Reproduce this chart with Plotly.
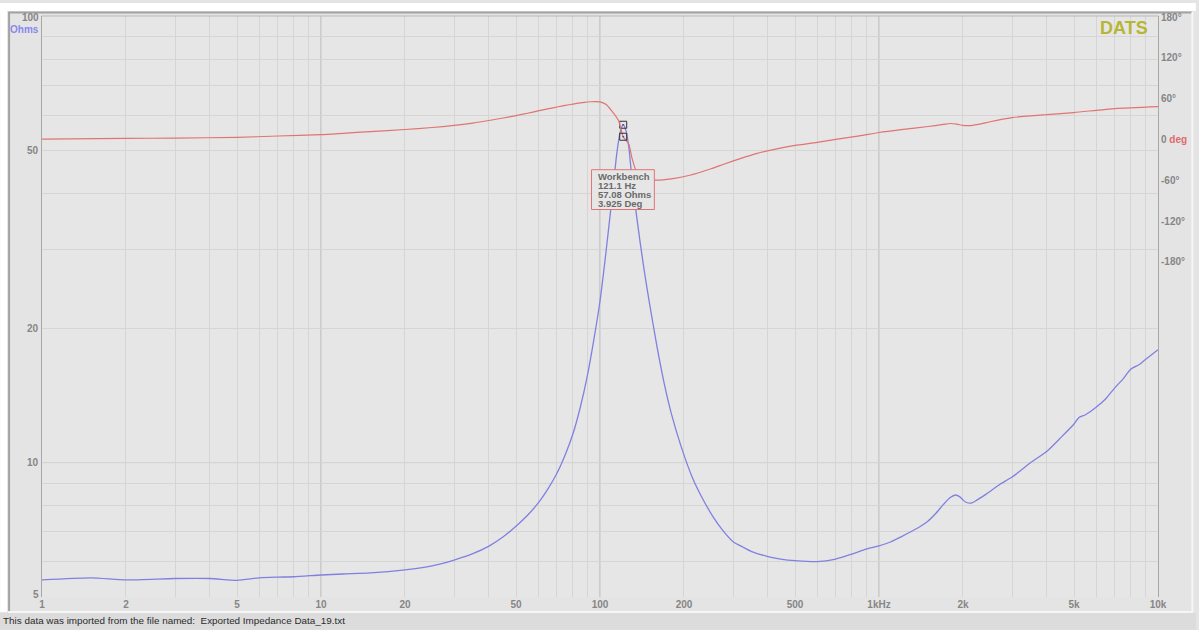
import plotly.graph_objects as go
import math

# ---- measured impedance (Ohms) vs frequency (Hz) ----
freq_z = [1, 1.5, 2, 3, 4, 5, 6, 7, 8, 10, 12, 15, 20, 25, 30, 35, 40, 45, 50, 55,
          60, 65, 70, 75, 80, 85, 90, 95, 100, 105, 110, 115, 118, 121.1, 124, 127,
          130, 135, 140, 145, 150, 160, 170, 180, 195, 215, 233, 255, 275, 300, 325,
          350, 400, 450, 500, 600, 700, 800, 900, 1000, 1100, 1200, 1300, 1400, 1500,
          1600, 1700, 1800, 1880, 1950, 2000, 2050, 2150, 2250, 2430, 2700, 3000,
          3500, 4000, 4500, 5000, 5200, 5500, 6000, 6500, 7000, 7500, 8000, 8600,
          9000, 10000]
impedance = [5.46, 5.52, 5.46, 5.50, 5.50, 5.45, 5.52, 5.54, 5.55, 5.60, 5.63, 5.66,
             5.75, 5.87, 6.05, 6.25, 6.50, 6.82, 7.20, 7.62, 8.11, 8.72, 9.45, 10.4,
             11.6, 13.3, 15.6, 18.8, 23.0, 29.5, 38.3, 49.5, 54.8, 57.08, 55.3, 50.5,
             43.6, 36.0, 30.4, 26.2, 23.0, 18.2, 15.0, 12.9, 10.9, 9.21, 8.31, 7.54,
             7.06, 6.65, 6.47, 6.32, 6.16, 6.07, 6.03, 6.00, 6.08, 6.24, 6.40, 6.51,
             6.64, 6.82, 7.00, 7.18, 7.40, 7.70, 8.05, 8.35, 8.46, 8.38, 8.25, 8.15,
             8.12, 8.25, 8.51, 8.92, 9.28, 10.0, 10.6, 11.4, 12.2, 12.6, 12.8, 13.3,
             13.9, 14.7, 15.4, 16.2, 16.6, 17.0, 17.9]

# ---- measured phase (degrees) vs frequency (Hz) ----
freq_p = [1, 2, 3, 5, 7, 10, 12, 15, 20, 25, 30, 35, 40, 45, 50, 55, 60, 65, 70.8,
          75, 80, 83.6, 88, 92.7, 96, 100, 104.9, 110, 116.5, 121.1, 126.8, 130,
          134.5, 140, 145, 150, 160, 180, 210, 250, 279, 320, 366, 430, 500, 600,
          700, 850, 1000, 1200, 1500, 1700, 1800, 1900, 2000, 2100, 2300, 2500,
          3000, 4000, 5000, 7000, 10000]
phase = [0.5, 1.5, 2, 3, 5, 7, 9, 11.5, 14.6, 17.5, 20.5, 24, 27.8, 31.5, 35, 38.5,
         42, 45, 48, 50, 52, 53.3, 54.6, 55.4, 55.7, 55.3, 51.7, 42.4, 27.8,
         3.925, -6.9, -26.3, -45.4, -54, -57.5, -58.5, -60, -58, -52.7, -43.2, -36.1,
         -27.8, -20.5, -13.9, -8.8, -4.4, 0, 5.1, 10.2, 14.5, 19, 22, 23.4, 22.5, 20.5,
         20.2, 22.5, 26, 32, 36.5, 39.5, 45.4, 48.3]

# ---- cursor readout ----
cursor_freq = 121.1
cursor_z = 57.08
cursor_phase = 3.925
readout_lines = ["Workbench", f"{cursor_freq} Hz", f"{cursor_z} Ohms", f"{cursor_phase} Deg"]

# ---- axis labels ----
x_label_vals = [1, 2, 5, 10, 20, 50, 100, 200, 500, 1000, 2000, 5000, 10000]
x_label_text = ["1", "2", "5", "10", "20", "50", "100", "200", "500", "1kHz", "2k", "5k", "10k"]
z_label_vals = [100, 50, 20, 10, 5]
z_label_text = ["100", "50", "20", "10", "5"]
ph_label_vals = [180, 120, 60, 0, -60, -120, -180]
ph_label_text = ["180°", "120°", "60°", "0 <span style='color:#e06a6a'>deg</span>",
                 "-60°", "-120°", "-180°"]

W, H = 1199, 630
L, R, T, B = 42, 38, 13, 33
PW, PH = W - L - R, H - T - B

def px_x(px):
    return (px - L) / PW

def px_y(py):
    return (H - B - py) / PH

GRID = "#d5d5d5"
MAJOR = "#b3b3b3"
LABEL = "#868686"
BLUE = "#8080e0"
RED = "#e07474"
FONT = "Arial, Liberation Sans, sans-serif"

# gridline positions: every 1..9 step in each decade
x_grid = [m * 10 ** d for d in range(4) for m in range(1, 10)] + [10000]
z_grid = [m for m in range(5, 10)] + [m * 10 for m in range(1, 10)] + [100]
x_text = {v: t for v, t in zip(x_label_vals, x_label_text)}

fig = go.Figure()

fig.add_trace(go.Scatter(x=freq_p, y=phase, yaxis="y2", mode="lines",
                         line=dict(color=RED, width=1.2, shape="spline", smoothing=0.6),
                         hoverinfo="skip"))
fig.add_trace(go.Scatter(x=freq_z, y=impedance, mode="lines",
                         line=dict(color=BLUE, width=1.3, shape="spline", smoothing=0.6),
                         hoverinfo="skip"))
fig.add_trace(go.Scatter(x=[cursor_freq], y=[cursor_z], mode="markers",
                         marker=dict(symbol="square-open-dot", size=7, color="#333333",
                                     line=dict(width=1)), hoverinfo="skip"))
fig.add_trace(go.Scatter(x=[cursor_freq], y=[cursor_phase], yaxis="y2", mode="markers",
                         marker=dict(symbol="square-open-dot", size=7, color="#333333",
                                     line=dict(width=1)), hoverinfo="skip"))

shapes = []
# window background pieces and sunken frame
shapes.append(dict(type="rect", xref="paper", yref="paper", layer="below",
                   x0=px_x(0), x1=px_x(W), y0=px_y(0), y1=px_y(8),
                   fillcolor="#ffffff", line=dict(width=0)))
shapes.append(dict(type="rect", xref="paper", yref="paper", layer="below",
                   x0=px_x(0), x1=px_x(7), y0=px_y(0), y1=px_y(612),
                   fillcolor="#ffffff", line=dict(width=0)))
shapes.append(dict(type="rect", xref="paper", yref="paper", layer="below",
                   x0=px_x(0), x1=px_x(W), y0=px_y(613), y1=px_y(H),
                   fillcolor="#dcdcdc", line=dict(width=0)))
for (x0, y0, x1, y1, c) in [(8, 9.5, 1195, 9.5, "#a2a2a2"), (9, 9, 9, 612, "#a2a2a2"),
                            (8, 612, 1196, 612, "#f6f6f6"), (1195.5, 9, 1195.5, 612, "#f6f6f6")]:
    shapes.append(dict(type="line", xref="paper", yref="paper", layer="below",
                       x0=px_x(x0), x1=px_x(x1), y0=px_y(y0), y1=px_y(y1),
                       line=dict(color=c, width=2)))
# top border of plot area
shapes.append(dict(type="line", xref="paper", yref="paper", x0=0, x1=1, y0=1, y1=1,
                   line=dict(color="#b8b8b8", width=1)))
# decade gridlines drawn darker
for v in [10, 100, 1000]:
    shapes.append(dict(type="line", xref="x", yref="paper", layer="between",
                       x0=v, x1=v, y0=0, y1=1, line=dict(color=MAJOR, width=1)))
shapes.append(dict(type="line", xref="paper", yref="y", layer="between",
                   x0=0, x1=1, y0=10, y1=10, line=dict(color=MAJOR, width=1)))
# cursor readout panel
BOX_L, BOX_T, BOX_R, BOX_B = 593, 167.5, 656, 207.5
shapes.append(dict(type="rect", xref="paper", yref="paper", layer="above",
                   x0=px_x(BOX_L), x1=px_x(BOX_R), y0=px_y(BOX_B), y1=px_y(BOX_T),
                   fillcolor="#e6e6e6", line=dict(color=RED, width=1)))

annotations = []
# left impedance labels
for v, t in zip(z_label_vals, z_label_text):
    shift = -1.5 if v == max(z_label_vals) else (3 if v == min(z_label_vals) else 0)
    annotations.append(dict(xref="paper", yref="y", x=0, y=math.log10(v), text=t,
                            xanchor="right", yanchor="middle", xshift=-1, yshift=shift,
                            showarrow=False,
                            font=dict(family=FONT, size=10, color=LABEL, weight="bold")))
annotations.append(dict(xref="paper", yref="paper", x=0, y=px_y(26.5), text="Ohms",
                        xanchor="right", yanchor="middle", xshift=-1, showarrow=False,
                        font=dict(family=FONT, size=10, color="#8888ec", weight="bold")))
# brand mark
annotations.append(dict(xref="paper", yref="paper", x=px_x(1127), y=px_y(25), text="DATS",
                        xanchor="center", yanchor="middle", showarrow=False,
                        font=dict(family=FONT, size=18, color="#b6b634", weight="bold")))
# cursor readout text, one line each
for i, line in enumerate(readout_lines):
    annotations.append(dict(xref="paper", yref="paper", x=px_x(BOX_L + 4),
                            y=px_y(BOX_T + 6.5 + i * 9.3), xanchor="left", yanchor="middle",
                            showarrow=False, text=line,
                            font=dict(family=FONT, size=9.5, color="#6a6a6a", weight="bold")))
# status line
annotations.append(dict(xref="paper", yref="paper", x=px_x(1), y=px_y(621),
                        xanchor="left", yanchor="middle", showarrow=False,
                        text="This data was imported from the file named:  Exported Impedance Data_19.txt",
                        font=dict(family=FONT, size=9.9, color="#2a2a2a")))

fig.update_layout(
    width=W, height=H,
    margin=dict(l=L, r=R, t=T, b=B, pad=0),
    paper_bgcolor="#e4e4e4",
    plot_bgcolor="#e6e6e6",
    showlegend=False,
    shapes=shapes,
    annotations=annotations,
    xaxis=dict(type="log", range=[0, 4], tickmode="array", tickvals=x_grid,
               ticktext=[x_text.get(v, "") for v in x_grid],
               showgrid=True, gridcolor=GRID, gridwidth=1, zeroline=False,
               showline=False, ticks="",
               tickfont=dict(family=FONT, size=10, color=LABEL, weight="bold")),
    yaxis=dict(type="log", range=[math.log10(5), 2], tickmode="array", tickvals=z_grid,
               showticklabels=False, showgrid=True, gridcolor=GRID, gridwidth=1,
               zeroline=False, showline=True, linecolor="#a8a8a8", linewidth=1, ticks=""),
    yaxis2=dict(overlaying="y", side="right", range=[-673, 181.5], tickmode="array",
                tickvals=ph_label_vals, ticktext=ph_label_text, showgrid=False,
                zeroline=False, showline=True, linecolor="#a8a8a8", linewidth=1, ticks="",
                tickfont=dict(family=FONT, size=10, color=LABEL, weight="bold")),
)

fig.write_html("out.html")
